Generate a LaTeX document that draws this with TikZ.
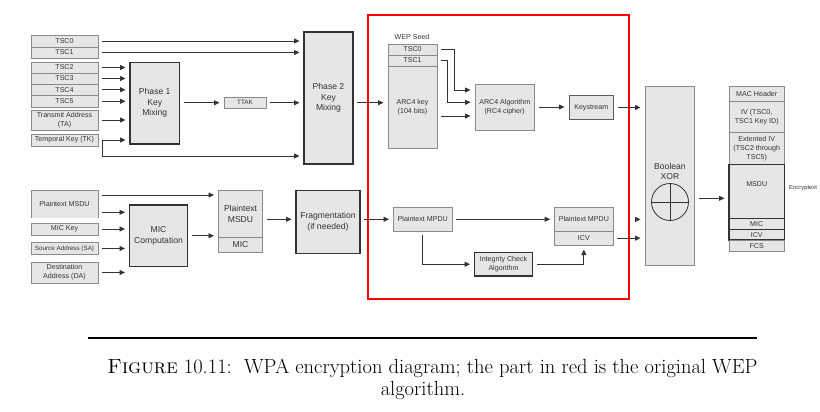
\documentclass[tikz,border=0pt]{standalone}
\usepackage{fontspec}
\newfontfamily\dfont{Liberation Sans}
\usetikzlibrary{arrows.meta,calc}
\definecolor{boxfill}{HTML}{E6E6E6}
\definecolor{boxline}{HTML}{8A8A8A}
\definecolor{ink}{HTML}{333333}
\tikzset{
  bx/.style={draw=boxline, fill=boxfill, line width=0.8pt, inner sep=0pt, outer sep=0pt, align=center,
             font=\dfont\fontsize{7.1}{9.3}\selectfont, text=ink},
  thk/.style={draw=ink, line width=1.5pt},
  big/.style={font=\dfont\fontsize{8.6}{10.5}\selectfont},
  tiny/.style={font=\dfont\fontsize{6.3}{8}\selectfont},
  arr/.style={draw=ink, line width=0.8pt, -{Triangle[length=5.5pt,width=5pt]}, shorten <=4pt, shorten >=4.5pt},
}
\newcommand{\mkbox}[7][]{\node[bx,#1,anchor=north west,minimum width={#5pt-#3pt},minimum height={#6pt-#4pt}] (#2) at (#3,#4) {#7};}
\begin{document}
\begin{tikzpicture}[x=1pt,y=-1pt]
\useasboundingbox (0,0) rectangle (820,412);
\fill[white] (0,0) rectangle (820,412);

% ---- left inputs (top)
\mkbox{tscA}{31}{35}{98}{47}{TSC0}
\mkbox{tscB}{31}{47}{98}{58}{TSC1}
\mkbox{tscC}{31}{62}{98}{73}{TSC2}
\mkbox{tscD}{31}{73}{98}{84}{TSC3}
\mkbox{tscE}{31}{84}{98}{95.5}{TSC4}
\mkbox{tscF}{31}{95.5}{98}{107}{TSC5}
\mkbox{ta}{31}{110}{98}{130}{Transmit Address\\(TA)}
\mkbox{tk}{31}{134}{98}{146}{Temporal Key (TK)}
\mkbox[thk,big]{pone}{130}{62.5}{179.5}{144}{Phase 1\\Key\\Mixing}
\mkbox[tiny]{ttak}{224}{97}{266}{108.5}{TTAK}
\mkbox[thk,big]{ptwo}{304}{32}{353}{164}{Phase 2\\Key\\Mixing}

% ---- left inputs (bottom)
\node[fill=boxfill, inner sep=0pt, outer sep=0pt, anchor=north west, minimum width=67pt, minimum height=27.5pt,
      align=center, font=\dfont\fontsize{7.1}{9.3}\selectfont, text=ink] (pmsdu) at (31,190.5) {Plaintext MSDU};
\draw[boxline, line width=0.8pt] (pmsdu.south west) -- (pmsdu.north west) -- (pmsdu.north east) -- (pmsdu.south east);
\mkbox{mickey}{31}{223}{98}{235}{MIC Key}
\mkbox[tiny]{sa}{31}{242.5}{98}{254.5}{Source Address (SA)}
\mkbox{da}{31}{262}{98}{283}{Destination\\Address (DA)}
\mkbox[thk,big]{micc}{129.5}{205}{187.5}{266.5}{MIC\\Computation}
\mkbox[big]{pmsdub}{218.5}{190.5}{262.5}{237}{Plaintext\\MSDU}
\mkbox[big]{micb}{218.5}{237}{262.5}{252}{MIC}
\mkbox[thk,big]{frag}{296}{190.5}{360}{253.5}{Fragmentation\\(if needed)}

% ---- WEP part
\node[font=\dfont\fontsize{7.1}{9.3}\selectfont, text=ink] (seedlbl) at (412,37) {WEP Seed};
\mkbox{stA}{388}{44}{437}{55}{TSC0}
\mkbox{stB}{388}{55}{437}{66}{TSC1}
\mkbox{arckey}{388}{66}{437}{148}{ARC4 key\\(104 bits)}
\mkbox{arcalg}{475}{84}{534.5}{130}{ARC4 Algorithm\\(RC4 cipher)}
\mkbox[draw=ink!80]{keys}{569}{95.5}{613.5}{119.5}{Keystream}
\mkbox{mpduA}{393.5}{207.5}{452}{231}{Plaintext MPDU}
\mkbox{mpduB}{554.7}{207.5}{613}{231.3}{Plaintext MPDU}
\mkbox{icvB}{554.7}{231.3}{613}{245}{ICV}
\mkbox[thk]{icalg}{474.5}{252.5}{532.5}{276}{Integrity Check\\Algorithm}
\draw[red, line width=2pt] (368,15.5) rectangle (628.5,298.5);

% ---- XOR
\mkbox{xor}{645}{86}{694.5}{265}{}
\node[big, text=ink, align=center] (xorlbl) at (670,171.3) {Boolean\\XOR};
\node[circle, draw=ink, line width=0.8pt, minimum size=37pt, inner sep=0pt] (xc) at (670,202) {};
\draw[ink, line width=0.8pt] (xc.north) -- (xc.south) (xc.west) -- (xc.east);

% ---- output frame
\mkbox{mach}{729}{86}{784.5}{101.5}{MAC Header}
\mkbox{ivf}{729}{101.5}{784.5}{132.5}{IV (TSC0,\\TSC1 Key ID)}
\mkbox{eiv}{729}{132.5}{784.5}{164.5}{Extented IV\\(TSC2 through\\TSC5)}
\mkbox[thk,text depth=14pt]{msdu}{729}{164.5}{784.5}{218.5}{MSDU}
\mkbox[thk]{micf}{729}{218.5}{784.5}{229.5}{MIC}
\mkbox[thk]{icvf}{729}{229.5}{784.5}{240}{ICV}
\mkbox{fcs}{729}{240}{784.5}{251.5}{FCS}
\node[font=\dfont\fontsize{5.9}{7}\selectfont, text=ink, anchor=west, inner sep=0pt] (enc) at (789,188) {Encryptext};

% ---- connectors (top)
\draw[arr] (tscA.east) -- (tscA.east -| ptwo.west);
\draw[arr] (tscB.east) -- (tscB.east -| ptwo.west);
\foreach \n in {tscC,tscD,tscE,tscF,ta,tk}
  \draw[arr] (\n.east) -- (\n.east -| pone.west);
\coordinate (tkd) at (102,156);
\draw[arr, shorten <=0pt] ([xshift=4pt]tk.east) -- (tkd) -- (tkd -| ptwo.west);
\draw[arr] (ttak.west -| pone.east) -- (ttak.west);
\draw[arr] (ttak.east) -- (ttak.east -| ptwo.west);
\draw[arr] ([yshift=-4.7pt]ptwo.east) -- ([yshift=-4.7pt]ptwo.east -| arckey.west);
\coordinate (ka) at (454.3,90);
\coordinate (kb) at (447.3,102.3);
\coordinate (kc) at (437,116);
\draw[arr] (stA.east) -| (ka) -- (ka -| arcalg.west);
\draw[arr] (stB.east) -| (kb) -- (kb -| arcalg.west);
\draw[arr] (kc) -- (kc -| arcalg.west);
\draw[arr] (arcalg.east) -- (arcalg.east -| keys.west);
\draw[arr] (keys.east) -- (keys.east -| xor.west);

% ---- connectors (bottom)
\coordinate (pa) at (98,195);
\coordinate (pb) at (98,212.3);
\draw[arr] (pa) -- (pa -| pmsdub.west);
\draw[arr] (pb) -- (pb -| micc.west);
\foreach \n in {mickey,sa,da}
  \draw[arr] (\n.east) -- (\n.east -| micc.west);
\draw[arr] (micc.east) -- (micc.east -| pmsdub.west);
\coordinate (pc) at (262.5,219.3);
\draw[arr] (pc) -- (pc -| frag.west);
\draw[arr] (mpduA.west -| frag.east) -- (mpduA.west);
\draw[arr] (mpduA.east) -- (mpduA.east -| mpduB.west);
\draw[arr] (mpduA.south) |- (icalg.west);
\draw[arr] (icalg.east) -| (icvB.south);
\draw[draw=ink, line width=0.8pt, -{Triangle[length=5.5pt,width=5pt]}, shorten >=4.5pt]
  ([xshift=-10pt]mpduB.east -| xor.west) -- (mpduB.east -| xor.west);
\draw[arr] (icvB.east) -- (icvB.east -| xor.west);
\coordinate (xo) at (694.5,198.3);
\draw[arr] (xo) -- (xo -| msdu.west);

% ---- caption
\draw[line width=1.1pt] (88,338) -- (757,338);
\node[anchor=base, font=\fontsize{20.5}{24}\selectfont] (capA) at (432.5,373)
  {\textsc{Figure} 10.11:\ \ WPA encryption diagram; the part in red is the original WEP};
\node[anchor=base, font=\fontsize{20.5}{24}\selectfont] (capB) at (423,395) {algorithm.};
\end{tikzpicture}
\end{document}
